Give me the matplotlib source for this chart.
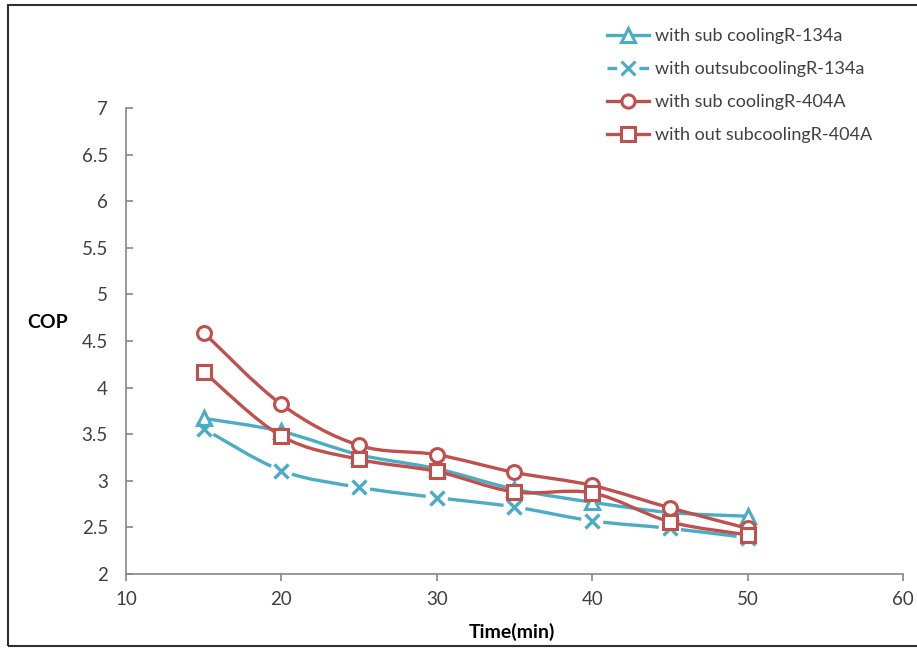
import matplotlib.pyplot as plt
import numpy as np
from matplotlib.path import Path
from matplotlib.patches import PathPatch, Rectangle
from matplotlib.lines import Line2D

plt.rcParams["font.family"] = ["Lato", "DejaVu Sans"]
plt.rcParams["lines.scale_dashes"] = False

# data
time_min = [15, 20, 25, 30, 35, 40, 45, 50]
sub_134a = [3.67, 3.53, 3.28, 3.13, 2.91, 2.77, 2.66, 2.62]
nosub_134a = [3.56, 3.11, 2.93, 2.82, 2.72, 2.57, 2.49, 2.39]
sub_404a = [4.59, 3.82, 3.38, 3.28, 3.09, 2.95, 2.71, 2.49]
nosub_404a = [4.17, 3.48, 3.23, 3.10, 2.88, 2.87, 2.56, 2.42]

labels = ["with sub coolingR-134a", "with outsubcoolingR-134a",
          "with sub coolingR-404A", "with out subcoolingR-404A"]

BLUE = "#4BACC6"
RED = "#C0504D"
LW = 2.4
GAP = 16.0  # pts, gap of the dashed line around each marker


def bezier_segments(x, y):
    # excel-style smoothed line: one cubic bezier per interval
    pts = np.column_stack([x, y]).astype(float)
    n = len(pts)
    segs = []
    for i in range(n - 1):
        p0 = pts[i - 1] if i > 0 else pts[i]
        p1 = pts[i]
        p2 = pts[i + 1]
        p3 = pts[i + 2] if i + 2 < n else pts[i + 1]
        c1 = p1 + (p2 - p0) / 6.0
        c2 = p2 - (p3 - p1) / 6.0
        segs.append(np.array([p1, c1, c2, p2]))
    return segs


def seg_length_pts(ax, seg, dpi):
    t = np.linspace(0, 1, 60)[:, None]
    b = ((1 - t) ** 3 * seg[0] + 3 * (1 - t) ** 2 * t * seg[1]
         + 3 * (1 - t) * t ** 2 * seg[2] + t ** 3 * seg[3])
    d = ax.transData.transform(b)
    return np.sum(np.hypot(*np.diff(d, axis=0).T)) * 72.0 / dpi


fig = plt.figure(figsize=(9.17, 6.48), dpi=100)
ax = fig.add_axes([0.1374, 0.1142, 0.8473, 0.7191])
ax.set_xlim(10, 60)
ax.set_ylim(2, 7)

series = [
    (sub_134a, BLUE, "^", False),
    (nosub_134a, BLUE, "x", True),
    (sub_404a, RED, "o", False),
    (nosub_404a, RED, "s", False),
]

codes = [Path.MOVETO, Path.CURVE4, Path.CURVE4, Path.CURVE4]
handles = []
for (vals, col, mk, dashed), lab in zip(series, labels):
    for seg in bezier_segments(time_min, vals):
        if dashed:
            L = seg_length_pts(ax, seg, fig.dpi)
            ls = (L - GAP / 2, (max(L - GAP, 0.1), GAP))
        else:
            ls = "-"
        ax.add_patch(PathPatch(Path(seg, codes), facecolor="none", edgecolor=col,
                               lw=LW, linestyle=ls, capstyle="butt", zorder=2))
    if mk == "x":
        ax.plot(time_min, vals, ls="none", marker="x", ms=10, mew=2.4,
                color=col, zorder=3)
    else:
        ax.plot(time_min, vals, ls="none", marker=mk, ms=10, mew=2.2,
                mfc="white", mec=col, zorder=3)
    if dashed:
        hls = (0, (7, GAP, 7, 100))
    else:
        hls = "-"
    handles.append(Line2D([], [], color=col, lw=LW, linestyle=hls,
                          marker=mk, ms=9.5, mew=2.2,
                          mfc="white" if mk != "x" else col, mec=col))

ax.set_xticks([10, 20, 30, 40, 50, 60])
ax.set_yticks([2, 2.5, 3, 3.5, 4, 4.5, 5, 5.5, 6, 6.5, 7])
ax.set_yticklabels(["2", "2.5", "3", "3.5", "4", "4.5", "5", "5.5", "6", "6.5", "7"])

for s in ["top", "right"]:
    ax.spines[s].set_visible(False)
for s in ["left", "bottom"]:
    ax.spines[s].set_color("#878787")
    ax.spines[s].set_linewidth(1.2)
ax.tick_params(axis="x", direction="out", length=5, width=1.2, color="#878787",
               labelsize=13.5, labelcolor="#404040", pad=7)
ax.tick_params(axis="y", direction="in", length=5, width=1.2, color="#878787",
               labelsize=13.5, labelcolor="#404040", pad=13)

fig.text(0.0523, 0.503, "COP", fontsize=14, fontweight="bold", ha="center", va="center")
fig.text(0.558, 0.025, "Time(min)", fontsize=14, fontweight="bold", ha="center", va="center")

leg = fig.legend(handles, labels, loc="upper left", bbox_to_anchor=(0.662, 0.957),
                 frameon=False, fontsize=13, handlelength=2.35, handletextpad=0.28,
                 labelspacing=0.95, borderpad=0, borderaxespad=0, labelcolor="#404040")

# outer frame
fig.patches.append(Rectangle((0.0087, 0.003), 1.1, 0.989, transform=fig.transFigure,
                             facecolor="none", edgecolor="#303030", lw=1.5))

plt.savefig("out.png", dpi=100)
